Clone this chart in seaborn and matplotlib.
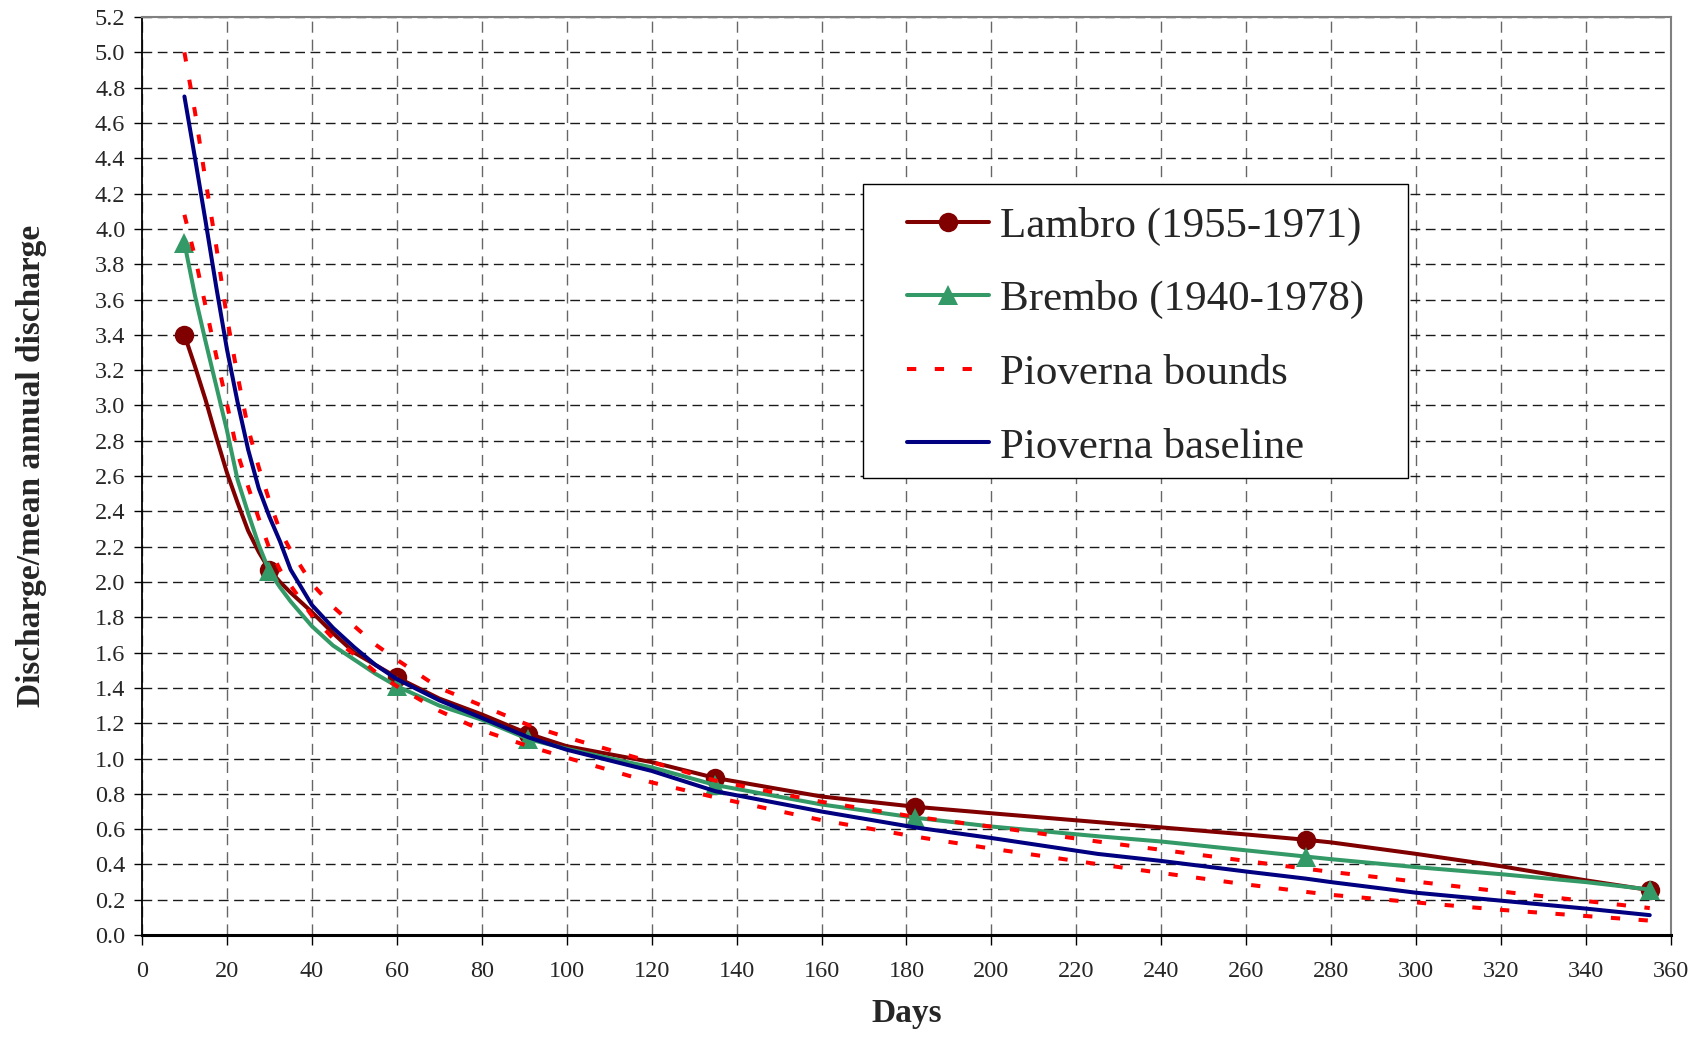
import matplotlib
matplotlib.use("Agg")
import matplotlib.pyplot as plt
from matplotlib.lines import Line2D
from matplotlib.patches import Rectangle
import seaborn as sns

# values (days -> discharge / mean annual discharge)
days = [10, 12.5, 15, 17.5, 20, 22.5, 25, 27.5, 30, 32.5, 35, 40, 45, 50, 55, 60, 70, 80, 91, 100,
        120, 135, 160, 182, 200, 225, 240, 260, 274, 280, 300, 320, 340, 355]
marker_days = [10, 30, 60, 91, 135, 182, 274, 355]

lambro = [3.40, 3.22, 3.03, 2.82, 2.62, 2.45, 2.29, 2.17, 2.07, 2.00, 1.94, 1.83, 1.71, 1.60, 1.53, 1.46,
          1.34, 1.25, 1.14, 1.07, 0.98, 0.89, 0.785, 0.727, 0.69, 0.64, 0.61, 0.57, 0.54, 0.525, 0.46,
          0.39, 0.31, 0.255]
brembo = [3.92, 3.62, 3.36, 3.11, 2.86, 2.58, 2.39, 2.21, 2.06, 1.97, 1.89, 1.75, 1.64, 1.56, 1.48, 1.41,
          1.30, 1.22, 1.11, 1.055, 0.95, 0.85, 0.74, 0.665, 0.615, 0.56, 0.53, 0.48, 0.445, 0.43, 0.385,
          0.345, 0.30, 0.258]
baseline = [4.75, 4.40, 4.04, 3.67, 3.32, 3.02, 2.75, 2.53, 2.37, 2.23, 2.07, 1.87, 1.74, 1.63, 1.53, 1.45,
            1.33, 1.23, 1.12, 1.05, 0.93, 0.815, 0.70, 0.61, 0.55, 0.46, 0.42, 0.36, 0.32, 0.30, 0.24,
            0.195, 0.15, 0.113]
upper = [5.00, 4.66, 4.27, 3.90, 3.50, 3.17, 2.87, 2.65, 2.46, 2.29, 2.18, 1.99, 1.86, 1.75, 1.645, 1.56,
         1.40, 1.30, 1.19, 1.12, 0.98, 0.875, 0.755, 0.67, 0.614, 0.53, 0.483, 0.42, 0.376, 0.358, 0.303,
         0.247, 0.193, 0.153]
lower = [4.08, 3.84, 3.56, 3.28, 3.01, 2.73, 2.54, 2.36, 2.19, 2.07, 1.98, 1.81, 1.68, 1.59, 1.49, 1.41,
         1.27, 1.16, 1.07, 1.005, 0.865, 0.78, 0.651, 0.558, 0.49, 0.402, 0.352, 0.287, 0.245, 0.228, 0.185,
         0.143, 0.108, 0.082]

x_ticks = list(range(0, 361, 20))
y_ticks = [i / 10 for i in range(0, 53, 2)]

sns.set_theme(style="white")
plt.rcParams["font.family"] = ["Liberation Serif", "DejaVu Serif"]

c_lambro = "#800000"
c_brembo = "#339966"
c_base = "#000080"
c_bound = "#ff0000"

fig = plt.figure(figsize=(16.98, 10.39), dpi=100)
ax = fig.add_axes([0.0836, 0.100, 0.9005, 0.8836])

mk = [days.index(d) for d in marker_days]
lw = 2.9
bound_dash = (2.3, 4.6)
line_kw = dict(lw=lw, solid_joinstyle="round", zorder=3)

sns.lineplot(x=days, y=lambro, ax=ax, color=c_lambro, marker="o", markersize=14,
             markevery=mk, markeredgewidth=0, **line_kw)
sns.lineplot(x=days, y=brembo, ax=ax, color=c_brembo, marker="^", markersize=15,
             markevery=mk, markeredgewidth=0, **line_kw)
sns.lineplot(x=days, y=upper, ax=ax, color=c_bound, dashes=bound_dash, **line_kw)
sns.lineplot(x=days, y=lower, ax=ax, color=c_bound, dashes=bound_dash, **line_kw)
sns.lineplot(x=days, y=baseline, ax=ax, color=c_base, **line_kw)

ax.set_xlim(0, 360)
ax.set_ylim(0, 5.2)
ax.set_xticks(x_ticks)
ax.set_yticks(y_ticks)
ax.set_yticklabels([f"{v:.1f}" for v in y_ticks])
ax.tick_params(axis="y", direction="out", length=6, width=1, pad=6, labelsize=17.5, left=True, color="black")
ax.tick_params(axis="x", direction="out", length=7, width=1, pad=12, labelsize=17.5, bottom=True, color="black")

ax.set_axisbelow(True)
ax.yaxis.grid(True, color="#1a1a1a", lw=1, linestyle=(0, (7, 4)))
ax.xaxis.grid(True, color="#666666", lw=1, linestyle=(0, (8, 5)))

for side in ["top", "right"]:
    ax.spines[side].set_color("#808080")
    ax.spines[side].set_linewidth(1.5)
ax.spines["left"].set_color("black")
ax.spines["left"].set_linewidth(1.3)
ax.spines["bottom"].set_color("black")
ax.spines["bottom"].set_linewidth(2.2)

ax.set_xlabel("Days", fontsize=24, fontweight="bold")
ax.set_ylabel("Discharge/mean annual discharge", fontsize=24, fontweight="bold")
ax.xaxis.set_label_coords(0.5, -0.068)
ax.yaxis.set_label_coords(-0.062, 0.511)

# legend box
ax.add_patch(Rectangle((0.4716, 0.498), 0.3564, 0.320, transform=ax.transAxes,
                       facecolor="white", edgecolor="black", lw=1, zorder=5))
handles = [
    Line2D([], [], color=c_lambro, lw=lw, marker="o", markersize=14, markeredgewidth=0),
    Line2D([], [], color=c_brembo, lw=lw, marker="^", markersize=15, markeredgewidth=0),
    Line2D([], [], color=c_bound, lw=lw, dashes=bound_dash),
    Line2D([], [], color=c_base, lw=lw),
]
labels = ["Lambro (1955-1971)", "Brembo (1940-1978)", "Pioverna bounds", "Pioverna baseline"]
leg = ax.legend(handles, labels, loc="center", bbox_to_anchor=(0.6498, 0.652), frameon=False,
                fontsize=31, handlelength=1.9, handletextpad=0.25, labelspacing=0.8,
                borderpad=0, numpoints=1)
leg.set_zorder(6)

fig.savefig("out.png", dpi=100)
